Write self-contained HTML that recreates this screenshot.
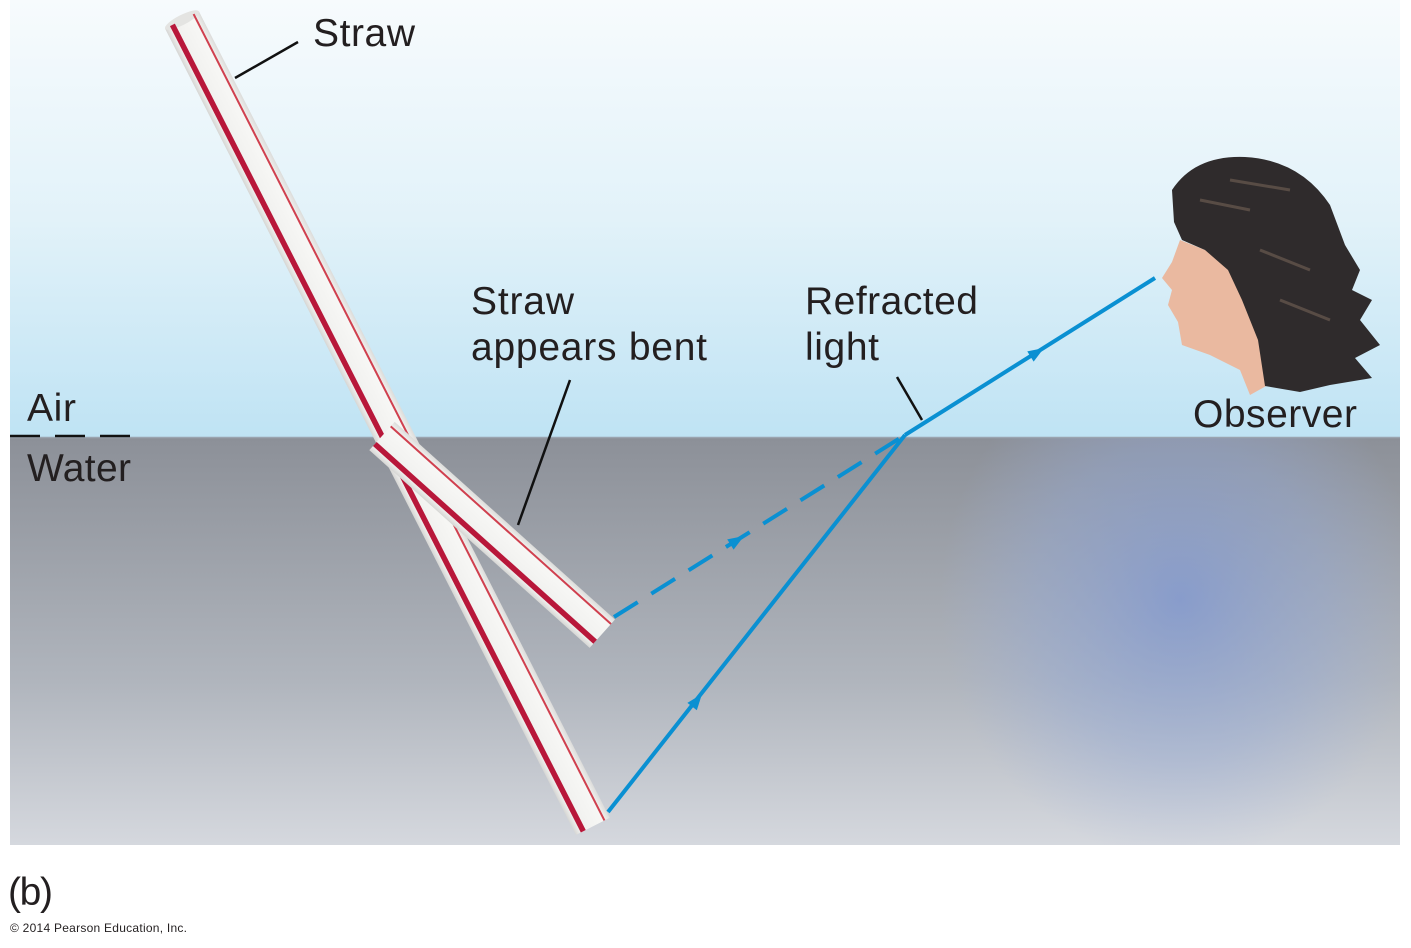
<!DOCTYPE html>
<html><head><meta charset="utf-8"><style>
body{margin:0;background:#fff;}
svg{display:block;font-family:"Liberation Sans",sans-serif;}
</style></head><body>
<svg width="1411" height="948" viewBox="0 0 1411 948">
<defs>
<linearGradient id="sky" x1="0" y1="0" x2="0" y2="1">
<stop offset="0" stop-color="#f7fbfd"/><stop offset="0.5" stop-color="#e2f2f9"/><stop offset="1" stop-color="#bfe3f4"/></linearGradient>
<linearGradient id="water" x1="0" y1="0" x2="0" y2="1">
<stop offset="0" stop-color="#8c9098"/><stop offset="0.6" stop-color="#b0b5bd"/><stop offset="1" stop-color="#d5d8de"/></linearGradient>
<radialGradient id="blue" cx="0.5" cy="0.5" r="0.5">
<stop offset="0" stop-color="#7f98d4" stop-opacity="0.75"/><stop offset="0.6" stop-color="#93a9d8" stop-opacity="0.4"/><stop offset="1" stop-color="#9fb2dd" stop-opacity="0"/></radialGradient>
<linearGradient id="strawg" x1="0" y1="0" x2="0" y2="1">
<stop offset="0" stop-color="#dcdcda"/><stop offset="0.2" stop-color="#f7f7f5"/><stop offset="0.85" stop-color="#f0f0ee"/><stop offset="1" stop-color="#d6d6d4"/></linearGradient>
<clipPath id="wc"><rect x="10" y="438" width="1390" height="407"/></clipPath>
</defs>
<rect x="10" y="0" width="1390" height="437" fill="url(#sky)"/>
<rect x="10" y="437" width="1390" height="408" fill="url(#water)"/>
<g clip-path="url(#wc)"><ellipse cx="1180" cy="600" rx="240" ry="260" fill="url(#blue)"/></g>
<line x1="10" y1="437.5" x2="1400" y2="437.5" stroke="#9aa4b0" stroke-width="1.5"/>

<!-- real straw -->
<g transform="translate(182,20) rotate(63)">
<rect x="0" y="-19" width="905" height="38" fill="url(#strawg)"/>
<ellipse cx="0" cy="0" rx="5" ry="19" fill="#e4e4e2"/>
<rect x="0" y="8" width="905" height="5.5" fill="#b8173a"/>
<rect x="0" y="-14" width="905" height="2" fill="#d0404f"/>
</g>
<!-- apparent bent straw -->
<g transform="translate(382,436) rotate(41.9)">
<rect x="0" y="-19" width="296" height="38" fill="url(#strawg)"/>
<rect x="0" y="8" width="296" height="5.5" fill="#b8173a"/>
<rect x="0" y="-14" width="296" height="2" fill="#d0404f"/>
</g>

<!-- rays -->
<g stroke="#0a90d2" stroke-width="4" fill="none">
<line x1="608" y1="812" x2="905" y2="435"/>
<line x1="905" y1="435" x2="1155" y2="278"/>
<line x1="614" y1="617" x2="905" y2="435" stroke-dasharray="28,16"/>
</g>
<g fill="#0a90d2">
<polygon points="0,0 -16,-6 -16,6" transform="translate(702,694) rotate(-51.8)"/>
<polygon points="0,0 -16,-6 -16,6" transform="translate(1044,348) rotate(-32.1)"/>
<polygon points="0,0 -16,-6 -16,6" transform="translate(744,536) rotate(-32)"/>
</g>

<!-- leader lines -->
<g stroke="#111" stroke-width="2.5">
<line x1="235" y1="78" x2="298" y2="42"/>
<line x1="570" y1="380" x2="518" y2="525"/>
<line x1="897" y1="377" x2="922" y2="420"/>
<line x1="10" y1="436" x2="40" y2="436"/>
<line x1="55" y1="436" x2="85" y2="436"/>
<line x1="100" y1="436" x2="130" y2="436"/>
</g>

<!-- head -->
<g>
<path d="M1180,240 L1172,262 L1162,278 L1172,290 L1168,305 L1178,322 L1182,345 L1210,355 L1240,370 L1250,395 L1268,385 L1262,340 L1230,260 Z" fill="#eab9a0"/>
<path d="M1172,190 Q1195,155 1245,157 Q1300,160 1330,205 L1345,245 L1360,270 L1352,290 L1372,300 L1360,320 L1380,345 L1355,358 L1372,378 L1330,385 L1300,392 L1265,386 L1258,340 L1242,300 L1228,270 L1205,250 L1182,240 L1174,222 Z" fill="#2f2b2c"/>
<g stroke="#6a5a50" stroke-width="3" opacity="0.7">
<line x1="1200" y1="200" x2="1250" y2="210"/><line x1="1260" y1="250" x2="1310" y2="270"/>
<line x1="1280" y1="300" x2="1330" y2="320"/><line x1="1230" y1="180" x2="1290" y2="190"/>
</g>
</g>

<!-- text -->
<g font-size="39" fill="#231f20">
<text x="313" y="46" textLength="102">Straw</text>
<text x="471" y="314" textLength="103">Straw</text>
<text x="471" y="360" textLength="236">appears bent</text>
<text x="805" y="314" textLength="173">Refracted</text>
<text x="805" y="360" textLength="74">light</text>
<text x="1193" y="427" textLength="164">Observer</text>
<text x="27" y="421" textLength="49">Air</text>
<text x="27" y="481" textLength="104">Water</text>
<text x="8" y="905" textLength="45">(b)</text>
</g>
<text x="10" y="932" font-size="12" fill="#231f20" textLength="177">© 2014 Pearson Education, Inc.</text>
</svg>
</body></html>
